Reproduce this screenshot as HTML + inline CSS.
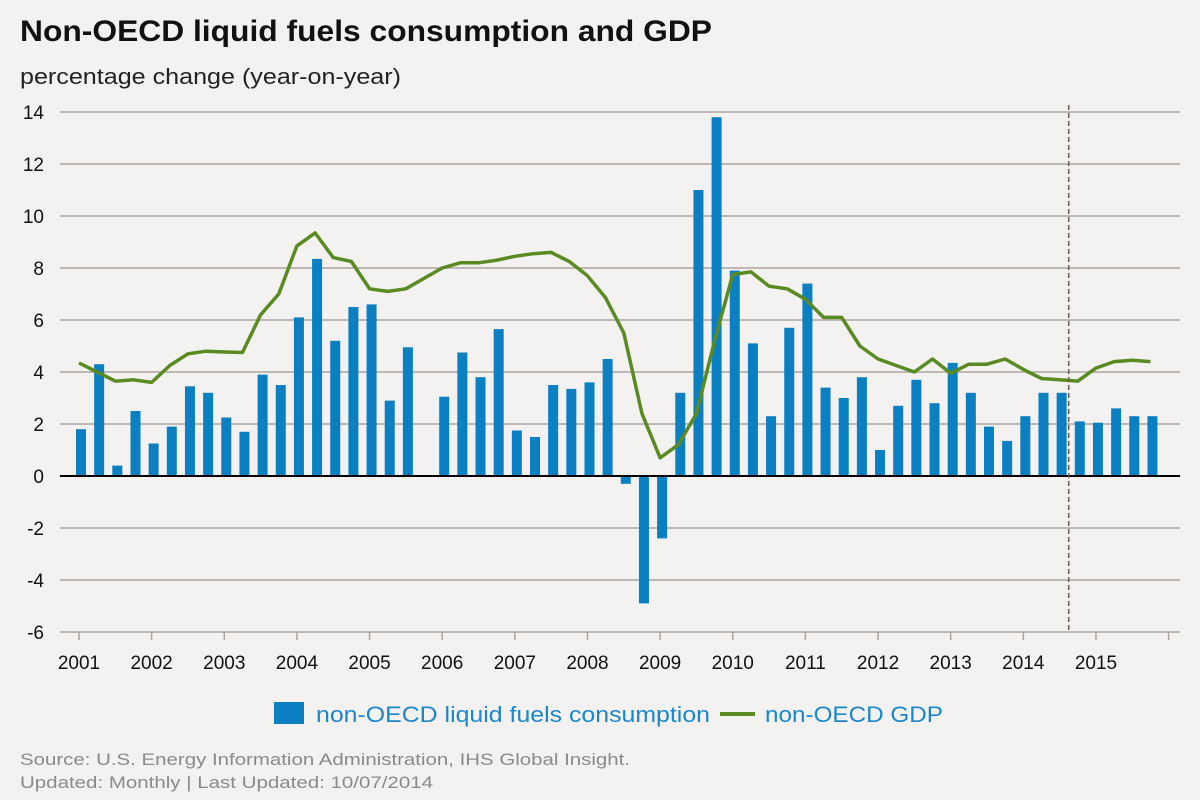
<!DOCTYPE html>
<html><head><meta charset="utf-8"><style>
body{margin:0;background:#f3f2f0;font-family:"Liberation Sans",sans-serif;}
svg{display:block}
</style></head><body>
<svg width="1200" height="800" viewBox="0 0 1200 800">
<rect width="1200" height="800" fill="#f3f2f0"/>
<text x="20" y="41" font-size="30" font-weight="bold" fill="#111" textLength="692" lengthAdjust="spacingAndGlyphs">Non-OECD liquid fuels consumption and GDP</text>
<text x="20" y="84" font-size="22" fill="#222" textLength="381" lengthAdjust="spacingAndGlyphs">percentage change (year-on-year)</text>
<g id="grid"></g><g id="bars"></g><g id="line"></g><g id="axes"></g>
<g>
<rect x="274" y="702" width="30" height="22" fill="#0a7fc2"/>
<text x="316" y="722" font-size="22" fill="#1a87c9" textLength="394" lengthAdjust="spacingAndGlyphs">non-OECD liquid fuels consumption</text>
<line x1="720" y1="714" x2="755" y2="714" stroke="#5a8a22" stroke-width="4"/>
<text x="765" y="722" font-size="22" fill="#1a87c9" textLength="178" lengthAdjust="spacingAndGlyphs">non-OECD GDP</text>
</g>
<text x="20" y="765" font-size="17" fill="#8a8a8a" textLength="610" lengthAdjust="spacingAndGlyphs">Source: U.S. Energy Information Administration, IHS Global Insight.</text>
<text x="20" y="788" font-size="17" fill="#8a8a8a" textLength="413" lengthAdjust="spacingAndGlyphs">Updated: Monthly | Last Updated: 10/07/2014</text>
</svg>
<script>
const years=[2001,2002,2003,2004,2005,2006,2007,2008,2009,2010,2011,2012,2013,2014,2015];
const yTicks=[-6,-4,-2,0,2,4,6,8,10,12,14];
const consumption=[1.8,4.3,0.4,2.5,1.25,1.9,3.45,3.2,2.25,1.7,3.9,3.5,6.1,8.35,5.2,6.5,6.6,2.9,4.95,null,3.05,4.75,3.8,5.65,1.75,1.5,3.5,3.35,3.6,4.5,-0.3,-4.9,-2.4,3.2,11,13.8,7.9,5.1,2.3,5.7,7.4,3.4,3.0,3.8,1.0,2.7,3.7,2.8,4.35,3.2,1.9,1.35,2.3,3.2,3.2,2.1,2.05,2.6,2.3,2.3];
const gdp=[4.35,4.0,3.65,3.7,3.6,4.25,4.7,4.8,4.77,4.75,6.2,7.0,8.85,9.35,8.4,8.25,7.2,7.1,7.2,7.6,8.0,8.2,8.2,8.3,8.45,8.55,8.6,8.25,7.7,6.85,5.5,2.4,0.7,1.2,2.4,5.2,7.75,7.85,7.3,7.2,6.8,6.1,6.1,5.0,4.5,4.25,4.0,4.5,3.95,4.3,4.3,4.5,4.1,3.75,3.7,3.65,4.15,4.4,4.45,4.4];
const forecastStart=54.5;
const NS="http://www.w3.org/2000/svg";
const X0=79,YR=72.64,Q=YR/4;
const yS=v=>476-v*26;
const xQ=i=>X0+Q*i+2;
function mk(tag,attrs,parent){const e=document.createElementNS(NS,tag);for(const k in attrs)e.setAttribute(k,attrs[k]);parent.appendChild(e);return e;}
const grid=document.getElementById('grid'),bars=document.getElementById('bars'),line=document.getElementById('line'),axes=document.getElementById('axes');
yTicks.forEach(t=>{
  if(t!==0){const l=mk('line',{x1:60,x2:1180,y1:yS(t),y2:yS(t),stroke:'#aba4a0','stroke-width':1.5},grid);
  
  }
  const tx=mk('text',{x:44,y:yS(t)+7,'text-anchor':'end','font-size':19,fill:'#111'},axes);
  tx.textContent=t;
  
  
});
years.forEach((y,k)=>{
  const x=X0+YR*k;
  const tk=mk('line',{x1:x,x2:x,y1:632,y2:640,stroke:'#aba4a0','stroke-width':1.5},axes);
  
  
  const tx=mk('text',{x:x,y:669,'text-anchor':'middle','font-size':19,fill:'#111'},axes);
  tx.textContent=y;
  
  
});
const endTick=mk('line',{x1:X0+YR*years.length,x2:X0+YR*years.length,y1:632,y2:640,stroke:'#aba4a0','stroke-width':1.5},axes);


consumption.forEach((v,i)=>{
  if(v===null)return;
  const y1=yS(Math.max(v,0)),y2=yS(Math.min(v,0));
  const r=mk('rect',{x:xQ(i)-5,y:y1,width:10,height:Math.max(y2-y1,1),fill:'#0a7fc2'},bars);
  
  
});
const zl=mk('line',{x1:60,x2:1180,y1:yS(0),y2:yS(0),stroke:'#000','stroke-width':2},bars);


const pl=mk('polyline',{points:gdp.map((v,i)=>(xQ(i)-2)+','+yS(v)).join(' '),fill:'none',stroke:'#5a8a22','stroke-width':3.5,'stroke-linejoin':'round'},line);


const fx=xQ(forecastStart)-2;
const fl=mk('line',{x1:fx,x2:fx,y1:105,y2:632,stroke:'#6b5a55','stroke-width':1.5,'stroke-dasharray':'5,3'},axes);


</script>
</body></html>
